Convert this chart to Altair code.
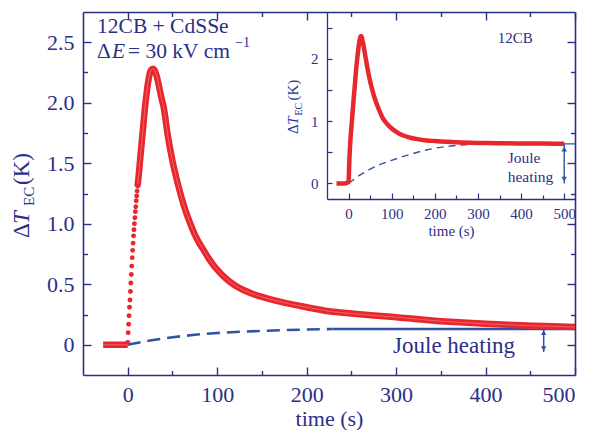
import altair as alt
import pandas as pd

NAVY = "#2b2f88"
BLUE = "#3052a6"
RED = "#e8262d"
FONT = "Liberation Serif"

# ---------------- main panel data (12CB + CdSSe) ----------------
main_base_t = [-27.5, -20, -10, 0]
main_base_v = [0.0, 0.0, 0.0, 0.0]
main_rise_t = [0, 0.5, 1, 1.5, 2, 2.5, 3, 3.5, 4, 4.5, 5, 5.5, 6, 6.5, 7, 7.5, 8, 8.5, 9, 9.5, 10, 10.5, 11]
main_rise_v = [0.02, 0.1, 0.17, 0.24, 0.31, 0.37, 0.44, 0.51, 0.58, 0.65, 0.72, 0.78, 0.84, 0.9, 0.95,
               1.0, 1.05, 1.1, 1.14, 1.19, 1.23, 1.27, 1.31]
main_decay_t = [11, 12, 13, 14, 15, 16, 17, 18, 19, 20, 21, 22, 23, 24, 25, 26, 28, 30, 32, 34, 36, 38,
                40, 45, 50, 55, 60, 65, 70, 75, 80, 85, 90, 95, 100, 110, 120, 130, 140, 150, 160, 170,
                180, 190, 200, 225, 250, 275, 300, 325, 350, 375, 400, 425, 450, 475, 500]
main_decay_v = [1.31, 1.38, 1.46, 1.54, 1.62, 1.70, 1.78, 1.86, 1.94, 2.01, 2.07, 2.13, 2.18, 2.22, 2.25,
                2.27, 2.28, 2.27, 2.23, 2.17, 2.10, 2.03, 1.97, 1.72, 1.52, 1.36, 1.22, 1.10, 1.0, 0.91,
                0.84, 0.78, 0.72, 0.665, 0.62, 0.545, 0.49, 0.45, 0.42, 0.395, 0.375, 0.357, 0.34, 0.325,
                0.31, 0.277, 0.258, 0.242, 0.228, 0.21, 0.195, 0.183, 0.173, 0.165, 0.158, 0.152, 0.147]
main_joule_dash_t = [0, 25, 50, 75, 100, 125, 150, 175, 200, 229]
main_joule_dash_v = [0.0, 0.035, 0.062, 0.083, 0.097, 0.107, 0.115, 0.121, 0.126, 0.13]
main_joule_solid_t = [229, 500]
main_joule_solid_v = [0.13, 0.13]

# ---------------- inset data (12CB) ----------------
ins_t = [-28, -20, -10, 0, 1, 2, 3, 4, 5, 6, 7, 8, 10, 12, 14, 16, 18, 20, 22, 24, 26, 28, 30, 32,
         35, 38, 42, 46, 50, 55, 60, 70, 80, 90, 100, 110, 120, 140, 160, 180, 200, 250, 300, 350,
         400, 450, 500]
ins_v = [0.0, 0.0, 0.0, 0.02, 0.2, 0.4, 0.55, 0.67, 0.77, 0.86, 0.94, 1.02, 1.2, 1.37, 1.53, 1.7, 1.86,
         2.0, 2.12, 2.23, 2.31, 2.36, 2.36, 2.3, 2.2, 2.08, 1.92, 1.77, 1.64, 1.5, 1.38, 1.19, 1.04,
         0.95, 0.88, 0.83, 0.79, 0.74, 0.71, 0.69, 0.68, 0.66, 0.65, 0.645, 0.64, 0.64, 0.635]
ins_joule_dash_t = [0, 25, 50, 75, 100, 125, 150, 175, 200, 225, 250, 275, 290]
ins_joule_dash_v = [0.0, 0.13, 0.23, 0.31, 0.37, 0.43, 0.48, 0.53, 0.565, 0.59, 0.61, 0.625, 0.635]
ins_joule_solid_t = [290, 525]
ins_joule_solid_v = [0.635, 0.635]

# tick values
main_x_major = [0, 100, 200, 300, 400, 500]
main_x_all = [0, 50, 100, 150, 200, 250, 300, 350, 400, 450, 500]
main_y_major = [0, 0.5, 1.0, 1.5, 2.0, 2.5]
main_y_all = [0, 0.25, 0.5, 0.75, 1.0, 1.25, 1.5, 1.75, 2.0, 2.25, 2.5]
ins_x_major = [0, 100, 200, 300, 400, 500]
ins_x_all = [0, 50, 100, 150, 200, 250, 300, 350, 400, 450, 500]
ins_y_major = [0, 1, 2]
ins_y_all = [0, 0.5, 1, 1.5, 2, 2.5]

W, H = 492, 363
IX_RANGE = [244, 492]
IY_RANGE = [187, 0]

df_base = pd.DataFrame({"t": main_base_t, "v": main_base_v, "g": "base"})
df_decay = pd.DataFrame({"t": main_decay_t, "v": main_decay_v, "g": "decay"})
df_line = pd.concat([df_base, df_decay], ignore_index=True)
df_rise = pd.DataFrame({"t": main_rise_t, "v": main_rise_v})
df_jd = pd.DataFrame({"t": main_joule_dash_t, "v": main_joule_dash_v})
df_js = pd.DataFrame({"t": main_joule_solid_t, "v": main_joule_solid_v})
df_ins = pd.DataFrame({"t": ins_t, "v": ins_v})
df_ijd = pd.DataFrame({"t": ins_joule_dash_t, "v": ins_joule_dash_v})
df_ijs = pd.DataFrame({"t": ins_joule_solid_t, "v": ins_joule_solid_v})


def mxs():
    return alt.Scale(domain=[-50, 500], nice=False, zero=False)


def mys():
    return alt.Scale(domain=[-0.25, 2.75], nice=False, zero=False)


def ixs():
    return alt.Scale(domain=[-50, 525], nice=False, zero=False, range=IX_RANGE)


def iys():
    return alt.Scale(domain=[-0.25, 2.75], nice=False, zero=False, range=IY_RANGE)


def ax(**kw):
    base = dict(grid=False, domainColor=NAVY, tickColor=NAVY, labelColor=NAVY, labelFont=FONT,
                titleFont=FONT, titleColor=NAVY, titleFontWeight="normal", domainWidth=1.6,
                tickWidth=1.4, title=None)
    base.update(kw)
    return alt.Axis(**base)


def MX(a=None):
    return alt.X("t:Q", scale=mxs(), axis=a)


def MY(a=None):
    return alt.Y("v:Q", scale=mys(), axis=a)


def IX(a=None):
    return alt.X("t:Q", scale=ixs(), axis=a)


def IY(a=None):
    return alt.Y("v:Q", scale=iys(), axis=a)


layers = []

# ---- main axes ----
layers.append(alt.Chart(df_line).mark_point(opacity=0).encode(
    x=MX(ax(orient="bottom", values=main_x_major, ticks=False, tickSize=0, labelFontSize=22,
            labelPadding=9, title="time (s)", titleFontSize=22, titlePadding=3)),
    y=MY(ax(orient="left", values=main_y_major, ticks=False, tickSize=0, labelFontSize=22,
            labelPadding=9, labelExpr="datum.value === 0 ? '0' : format(datum.value, '.1f')")),
))
layers.append(alt.Chart(df_line).mark_point(opacity=0).encode(
    x=MX(ax(orient="top", labels=False, ticks=False, tickSize=0)),
    y=MY(ax(orient="right", labels=False, ticks=False, tickSize=0)),
))
main_tick_x = {"condition": {"test": "datum.value % 100 === 0", "value": 8}, "value": 4.5}
main_tick_y = {"condition": {"test": "datum.value % 0.5 === 0", "value": 8}, "value": 4.5}
layers.append(alt.Chart(df_line).mark_point(opacity=0).encode(
    x=MX(ax(orient="top", offset=-H, values=main_x_all, labels=False, domain=False, tickSize=main_tick_x)),
    y=MY(ax(orient="right", offset=-W, values=main_y_all, labels=False, domain=False, tickSize=main_tick_y)),
))
layers.append(alt.Chart(df_line).mark_point(opacity=0).encode(
    x=MX(ax(orient="bottom", offset=-H, values=main_x_all, labels=False, domain=False, tickSize=main_tick_x)),
    y=MY(ax(orient="left", offset=-W, values=main_y_all, labels=False, domain=False, tickSize=main_tick_y)),
))

# ---- main data ----
layers.append(alt.Chart(df_jd).mark_line(color=BLUE, strokeWidth=2.6, strokeDash=[13, 7]).encode(
    x=MX(), y=MY()))
layers.append(alt.Chart(df_js).mark_line(color=BLUE, strokeWidth=2.6).encode(x=MX(), y=MY()))
layers.append(alt.Chart(df_line).mark_line(color=RED, strokeWidth=6.5, interpolate="monotone").encode(
    x=MX(), y=MY(), detail="g:N"))
layers.append(alt.Chart(df_line).mark_line(color="#f48a8a", strokeWidth=1, interpolate="monotone",
                                           opacity=0.6).encode(x=MX(), y=MY(), detail="g:N"))
layers.append(alt.Chart(df_rise).mark_point(shape="circle", filled=True, color=RED, opacity=1,
                                            size=24).encode(x=MX(), y=MY()))

# ---- main arrow ----
arr_t = [465]
layers.append(alt.Chart(pd.DataFrame({"t": arr_t, "v": [0.13], "v2": [-0.06]})).mark_rule(
    color=BLUE, strokeWidth=1.5).encode(x=MX(), y=MY(), y2="v2:Q"))
layers.append(alt.Chart(pd.DataFrame({"t": arr_t, "v": [0.10]})).mark_point(
    shape="triangle-up", filled=True, color=BLUE, size=28, opacity=1).encode(x=MX(), y=MY()))
layers.append(alt.Chart(pd.DataFrame({"t": arr_t, "v": [-0.032]})).mark_point(
    shape="triangle-down", filled=True, color=BLUE, size=28, opacity=1).encode(x=MX(), y=MY()))

# ---- main annotations ----
def mtext(t, v, s, size, style="normal", align="left"):
    return alt.Chart(pd.DataFrame({"t": [t], "v": [v], "s": [s]})).mark_text(
        font=FONT, fontSize=size, fontStyle=style, color=NAVY, align=align, baseline="alphabetic"
    ).encode(x=MX(), y=MY(), text="s:N")


layers.append(mtext(-34.3, 2.576, "12CB + CdSSe", 21.5))
layers.append(mtext(-34.3, 2.37, "Δ", 21.5))
layers.append(mtext(-17.6, 2.37, "E", 21.5, "italic"))
layers.append(mtext(0.3, 2.37, "= 30 kV cm", 21.5))
layers.append(mtext(120, 2.46, "−1", 14))
layers.append(mtext(296.6, -0.072, "Joule heating", 23))

# ---- main y title pieces (outside the plot) ----
def ptext(x, y, s, size, style="normal"):
    return alt.Chart(pd.DataFrame({"s": [s]})).mark_text(
        font=FONT, fontSize=size, fontStyle=style, color=NAVY, align="left", baseline="alphabetic",
        angle=270).encode(x=alt.value(x), y=alt.value(y), text="s:N")


layers.append(ptext(-54, 226, "Δ", 23))
layers.append(ptext(-54, 212, "T", 23, "italic"))
layers.append(ptext(-49, 194, "EC", 15))
layers.append(ptext(-54, 173, "(K)", 23))

# ---- inset axes ----
layers.append(alt.Chart(df_ins).mark_point(opacity=0).encode(
    x=IX(ax(orient="bottom", offset=-(H - IY_RANGE[0]), values=ins_x_major, ticks=False, tickSize=0,
            labelFontSize=15, labelPadding=7, title="time (s)", titleFontSize=15, titlePadding=2,
            domainWidth=1.3)),
    y=IY(ax(orient="left", offset=-IX_RANGE[0], values=ins_y_major, ticks=False, tickSize=0,
            labelFontSize=15, labelPadding=9, domainWidth=1.3)),
))
ins_tick_x = {"condition": {"test": "datum.value % 100 === 0", "value": 6}, "value": 4}
layers.append(alt.Chart(df_ins).mark_point(opacity=0).encode(
    x=IX(ax(orient="top", offset=-IY_RANGE[0], values=ins_x_all, labels=False, domain=False,
            tickSize=ins_tick_x, tickWidth=1.2)),
    y=IY(ax(orient="right", offset=-(W - IX_RANGE[0]), values=ins_y_all, labels=False, domain=False,
            tickSize=5, tickWidth=1.2)),
))

# ---- inset data ----
layers.append(alt.Chart(df_ijd).mark_line(color=BLUE, strokeWidth=1.4, strokeDash=[7, 5]).encode(
    x=IX(), y=IY()))
layers.append(alt.Chart(df_ijs).mark_line(color=BLUE, strokeWidth=1.4).encode(x=IX(), y=IY()))
layers.append(alt.Chart(df_ins).mark_line(color=RED, strokeWidth=4.5, interpolate="monotone").encode(
    x=IX(), y=IY()))

# ---- inset arrow ----
iarr_t = [500]
layers.append(alt.Chart(pd.DataFrame({"t": iarr_t, "v": [0.63], "v2": [0.0]})).mark_rule(
    color=BLUE, strokeWidth=1.4).encode(x=IX(), y=IY(), y2="v2:Q"))
layers.append(alt.Chart(pd.DataFrame({"t": iarr_t, "v": [0.55]})).mark_point(
    shape="triangle-up", filled=True, color=BLUE, size=30, opacity=1).encode(x=IX(), y=IY()))
layers.append(alt.Chart(pd.DataFrame({"t": iarr_t, "v": [0.07]})).mark_point(
    shape="triangle-down", filled=True, color=BLUE, size=30, opacity=1).encode(x=IX(), y=IY()))


def itext(t, v, s, size, style="normal"):
    return alt.Chart(pd.DataFrame({"t": [t], "v": [v], "s": [s]})).mark_text(
        font=FONT, fontSize=size, fontStyle=style, color=NAVY, align="left", baseline="alphabetic"
    ).encode(x=IX(), y=IY(), text="s:N")


layers.append(itext(346, 2.248, "12CB", 15))
layers.append(itext(369, 0.327, "Joule", 15.5))
layers.append(itext(369, 0.023, "heating", 15.5))

# inset y title pieces
layers.append(ptext(215, 122, "Δ", 15))
layers.append(ptext(215, 112.8, "T", 15, "italic"))
layers.append(ptext(219, 103.5, "EC", 10))
layers.append(ptext(215, 88.5, "(K)", 15))

chart = alt.layer(*layers).resolve_scale(x="independent", y="independent").properties(
    width=W, height=H,
    autosize=alt.AutoSizeParams(type="none"),
    padding={"left": 83, "top": 12, "right": 19, "bottom": 55},
    background="white",
).configure_view(stroke=None)

chart.save("out.html", embed_options={"renderer": "svg", "actions": False})
